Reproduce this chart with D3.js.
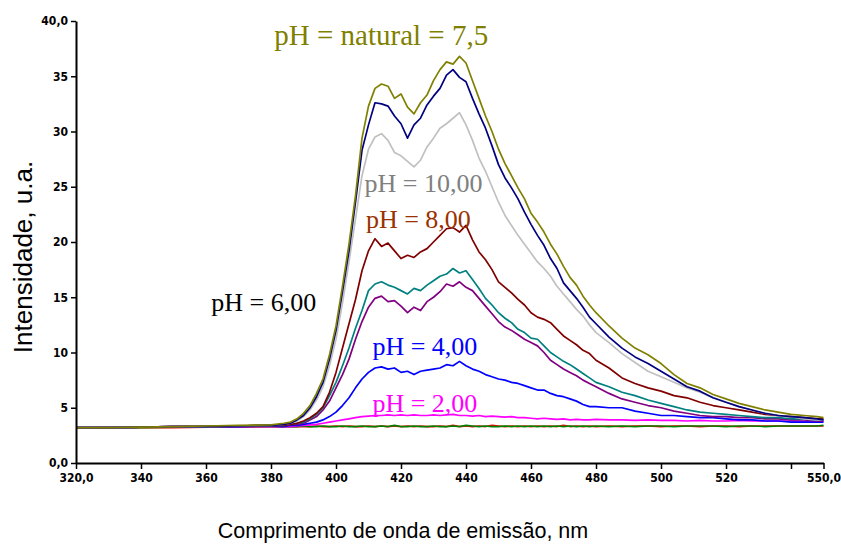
<!DOCTYPE html>
<html lang="pt">
<head>
    <meta charset="UTF-8">
    <title>Espectros de emissão</title>
    <script src="https://cdn.jsdelivr.net/npm/d3@7/dist/d3.min.js"></script>
    <style>
        body { margin: 0; background: #fff; }
        .tick text { font-family: "Liberation Sans Narrow", "DejaVu Sans Condensed", Arial, sans-serif; font-weight: bold; font-size: 12px; }
    </style>
</head>
<body>
    <div id="root"></div>
    <script>
        // comprimento de onda (nm) dos pontos lidos
        const wavelengths = [320,330,340,350,360,370,380,
            384,386,388,390,392,394,396,398,400,
            402,404,406,408,410,412,414,416,418,420,
            422,424,426,428,430,432,434,436,438,440,
            442,444,446,448,450,452,454,456,458,460,
            462,464,466,468,470,472,474,476,478,480,
            484,488,492,496,500,504,508,512,516,520,524,528,532,536,540,544,548,
            550];

        const olive = [3.2,3.2,3.25,3.3,3.35,3.4,3.45,
            3.6,3.7,4.0,4.5,5.2,6.3,7.6,9.8,12.4,
            16.0,19.8,24.2,29.4,32.3,33.9,34.3,34.1,33.0,33.4,
            32.2,31.6,32.6,33.3,34.6,35.6,36.3,36.1,36.8,36.2,
            34.6,33.0,31.4,30.0,28.4,27.1,26.0,24.9,23.9,22.6,
            21.8,20.9,19.8,18.9,17.8,16.8,16.1,15.1,14.3,13.6,
            12.4,11.3,10.4,9.8,9.0,8.0,7.2,6.8,6.2,5.8,5.4,5.1,4.8,4.6,4.4,4.3,4.2,
            4.1];
        const navy = [3.2,3.2,3.25,3.3,3.3,3.35,3.4,
            3.5,3.6,3.9,4.3,5.0,6.0,7.3,9.4,12.0,
            15.5,19.2,23.6,28.3,30.6,32.6,32.5,32.3,31.4,30.7,
            29.4,30.6,31.2,32.4,33.2,33.9,35.1,35.6,34.9,34.5,
            33.0,31.6,30.3,28.7,27.0,25.8,24.9,23.9,22.7,21.6,
            20.6,19.7,18.5,17.6,16.3,15.6,14.9,14.1,13.2,12.6,
            11.4,10.4,9.6,9.0,8.3,7.6,6.9,6.5,5.9,5.5,5.1,4.8,4.5,4.3,4.2,4.1,4.0,
            3.9];
        const silver = [3.2,3.2,3.25,3.3,3.3,3.35,3.4,
            3.5,3.6,3.8,4.2,4.8,5.7,6.9,8.8,11.2,
            14.5,18.2,22.1,26.0,28.4,29.5,29.8,29.2,28.1,27.8,
            27.3,26.8,27.4,28.6,29.4,30.3,30.7,31.2,31.7,30.6,
            29.2,27.6,26.4,25.0,23.6,22.4,21.5,20.6,19.8,19.0,
            18.2,17.6,16.9,16.0,15.3,14.6,13.9,13.3,12.5,11.8,
            10.9,9.9,9.1,8.3,7.8,7.3,6.8,6.4,5.9,5.5,5.1,4.8,4.5,4.3,4.2,4.0,3.9,
            3.9];
        const maroon = [3.2,3.2,3.25,3.3,3.3,3.35,3.4,
            3.4,3.5,3.6,3.8,4.1,4.5,5.1,6.4,8.2,
            10.4,12.6,14.8,17.4,19.2,20.3,19.6,19.9,19.2,18.5,
            18.8,18.6,19.1,19.4,20.0,20.6,21.2,21.3,20.9,21.5,
            20.2,19.1,18.4,17.5,16.4,15.9,15.4,14.8,14.3,13.6,
            13.2,13.0,12.7,12.1,11.5,11.1,10.7,10.2,9.9,9.3,
            8.6,7.7,7.2,6.8,6.5,6.1,5.9,5.5,5.2,5.0,4.8,4.6,4.4,4.3,4.2,4.1,4.0,
            4.0];
        const teal = [3.2,3.2,3.25,3.3,3.3,3.35,3.4,
            3.4,3.5,3.6,3.7,4.0,4.4,5.0,6.1,7.3,
            8.8,10.4,12.2,13.8,15.6,16.2,16.4,16.1,15.9,15.6,
            15.3,15.8,15.6,16.1,16.5,16.9,17.1,17.6,17.2,17.4,
            16.6,15.8,14.9,14.3,13.6,13.1,12.7,12.1,11.8,11.3,
            11.2,10.6,10.0,9.6,9.2,8.9,8.5,8.1,7.7,7.3,
            6.9,6.4,6.1,5.7,5.4,5.1,4.8,4.6,4.5,4.4,4.3,4.2,4.1,4.1,4.0,4.0,3.9,
            3.9];
        const purple = [3.2,3.2,3.25,3.3,3.3,3.35,3.4,
            3.4,3.5,3.5,3.6,3.9,4.2,4.8,5.6,6.8,
            8.0,9.4,11.2,12.8,14.1,14.9,15.1,14.6,14.7,14.2,
            13.6,14.1,13.8,14.6,15.0,15.5,16.2,16.0,16.4,15.9,
            15.6,14.9,14.2,13.5,12.8,12.3,12.0,11.6,11.2,10.9,
            10.6,10.0,9.3,8.9,8.5,8.2,7.9,7.5,7.2,6.9,
            6.3,5.8,5.5,5.2,5.0,4.7,4.5,4.3,4.2,4.2,4.1,4.1,4.0,4.0,3.9,3.9,3.8,
            3.8];
        const blue = [3.2,3.2,3.25,3.3,3.3,3.3,3.35,
            3.3,3.4,3.4,3.5,3.6,3.7,3.9,4.2,4.6,
            5.2,5.9,6.8,7.6,8.2,8.6,8.7,8.5,8.6,8.2,
            8.3,8.0,8.3,8.4,8.5,8.6,8.9,8.8,9.2,8.8,
            8.5,8.3,8.0,7.8,7.6,7.5,7.3,7.2,7.0,6.8,
            6.6,6.6,6.3,6.1,6.0,5.8,5.6,5.3,5.1,5.1,
            5.0,5.0,4.7,4.5,4.3,4.3,4.2,4.1,4.1,4.0,3.9,3.9,3.8,3.8,3.7,3.7,3.7,
            3.7];
        const magenta = [3.2,3.2,3.25,3.3,3.3,3.3,3.3,
            3.3,3.3,3.35,3.4,3.45,3.5,3.6,3.7,3.8,
            3.9,4.0,4.1,4.2,4.25,4.3,4.3,4.35,4.3,4.35,
            4.3,4.35,4.3,4.3,4.35,4.3,4.35,4.4,4.3,4.3,
            4.25,4.3,4.2,4.25,4.2,4.15,4.2,4.1,4.1,4.05,
            4.0,4.05,4.0,3.95,4.0,3.9,3.95,3.9,3.9,3.95,
            3.9,3.9,3.85,3.9,3.85,3.85,3.8,3.85,3.8,3.8,3.85,3.8,3.8,3.8,3.8,3.75,3.8,
            3.8];
        const red = [3.15,3.2,3.2,3.2,3.25,3.25,3.3,
            3.3,3.3,3.3,3.3,3.3,3.35,3.3,3.3,3.35,
            3.3,3.35,3.3,3.3,3.35,3.3,3.35,3.3,3.35,3.3,
            3.35,3.3,3.35,3.3,3.3,3.35,3.3,3.4,3.3,3.35,
            3.3,3.35,3.3,3.4,3.35,3.3,3.35,3.3,3.35,3.3,
            3.35,3.3,3.35,3.3,3.4,3.3,3.35,3.3,3.35,3.3,
            3.35,3.3,3.35,3.35,3.3,3.35,3.35,3.3,3.35,3.35,3.3,3.35,3.35,3.35,3.35,3.35,3.35,
            3.35];
        const green = [3.2,3.2,3.2,3.25,3.25,3.3,3.3,
            3.3,3.3,3.3,3.35,3.3,3.3,3.35,3.3,3.3,
            3.35,3.3,3.3,3.35,3.3,3.3,3.35,3.3,3.4,3.3,
            3.3,3.35,3.3,3.3,3.35,3.3,3.3,3.35,3.3,3.4,
            3.35,3.3,3.35,3.3,3.3,3.35,3.3,3.35,3.3,3.35,
            3.3,3.35,3.3,3.35,3.3,3.35,3.3,3.35,3.3,3.35,
            3.3,3.35,3.3,3.35,3.35,3.3,3.35,3.35,3.35,3.3,3.35,3.35,3.3,3.35,3.35,3.35,3.35,
            3.4];

        // ordem de desenho: de baixo para cima
        const seriesList = [
            {values: red, color: '#ff0000'},
            {values: green, color: '#008000'},
            {values: magenta, color: '#ff00ff'},
            {values: blue, color: '#0000ff'},
            {values: purple, color: '#800080'},
            {values: teal, color: '#008080'},
            {values: maroon, color: '#800000'},
            {values: silver, color: '#c0c0c0'},
            {values: navy, color: '#000080'},
            {values: olive, color: '#808000'},
        ];

        const xTicks = [320,340,360,380,400,420,440,460,480,500,520,540,550];
        const xTickLabels = ['320,0','340','360','380','400','420','440','460','480','500','520','','550,0'];
        const yTicks = [0,5,10,15,20,25,30,35,40];
        const yTickLabels = ['0,0','5','10','15','20','25','30','35','40,0'];

        const phLabels = [
            {text: 'pH = natural = 7,5', color: '#808000', wl: 381, val: 37.8, size: 29},
            {text: 'pH = 10,00', color: '#808080', wl: 408.8, val: 24.5, size: 26},
            {text: 'pH = 8,00', color: '#993300', wl: 409.2, val: 21.3, size: 26},
            {text: 'pH = 6,00', color: '#000000', wl: 361.6, val: 13.8, size: 26},
            {text: 'pH = 4,00', color: '#0000ff', wl: 411.2, val: 9.8, size: 26},
            {text: 'pH = 2,00', color: '#ff00ff', wl: 411.2, val: 4.6, size: 26},
        ];

        const svgW = 841, svgH = 545;
        const mLeft = 76, mRight = 823.5, mTop = 21, mBottom = 463;

        const svg = d3.select('#root').append('svg')
            .attr('width', svgW)
            .attr('height', svgH);

        const x = d3.scaleLinear().domain([320, 550]).range([mLeft, mRight]);
        const y = d3.scaleLinear().domain([0, 40]).range([mBottom, mTop]);

        const line = d3.line()
            .x((d, i) => x(wavelengths[i]))
            .y(d => y(d));

        svg.append('g').selectAll('path')
            .data(seriesList)
            .enter()
            .append('path')
            .attr('d', d => line(d.values))
            .attr('fill', 'none')
            .attr('stroke', d => d.color)
            .attr('stroke-width', 1.7)
            .attr('stroke-linejoin', 'round');

        const xAxis = svg.append('g')
            .attr('transform', `translate(0,${mBottom})`)
            .call(d3.axisBottom(x)
                .tickValues(xTicks)
                .tickSize(6)
                .tickSizeOuter(0)
                .tickPadding(4)
                .tickFormat((d, i) => xTickLabels[i]));

        const yAxis = svg.append('g')
            .attr('transform', `translate(${mLeft},0)`)
            .call(d3.axisLeft(y)
                .tickValues(yTicks)
                .tickSize(5)
                .tickSizeOuter(0)
                .tickPadding(3)
                .tickFormat((d, i) => yTickLabels[i]));

        [xAxis, yAxis].forEach(g => {
            g.select('.domain').attr('stroke', '#000').attr('stroke-width', 2);
            g.selectAll('.tick line').attr('stroke', '#000').attr('stroke-width', 1.5);
            g.selectAll('.tick text').attr('fill', '#000');
        });

        svg.append('g').selectAll('text')
            .data(phLabels)
            .enter()
            .append('text')
            .attr('x', d => x(d.wl))
            .attr('y', d => y(d.val))
            .attr('fill', d => d.color)
            .style('font-family', '"Liberation Serif", "Times New Roman", serif')
            .style('font-size', d => d.size + 'px')
            .text(d => d.text);

        svg.append('text')
            .attr('x', 403)
            .attr('y', 538)
            .attr('text-anchor', 'middle')
            .style('font-family', '"Liberation Sans", Arial, sans-serif')
            .style('font-size', '21.5px')
            .text('Comprimento de onda de emissão, nm');

        svg.append('text')
            .attr('transform', 'translate(32,257) rotate(-90)')
            .attr('text-anchor', 'middle')
            .style('font-family', '"Liberation Sans", Arial, sans-serif')
            .style('font-size', '26px')
            .text('Intensidade, u.a.');
    </script>
</body>
</html>
